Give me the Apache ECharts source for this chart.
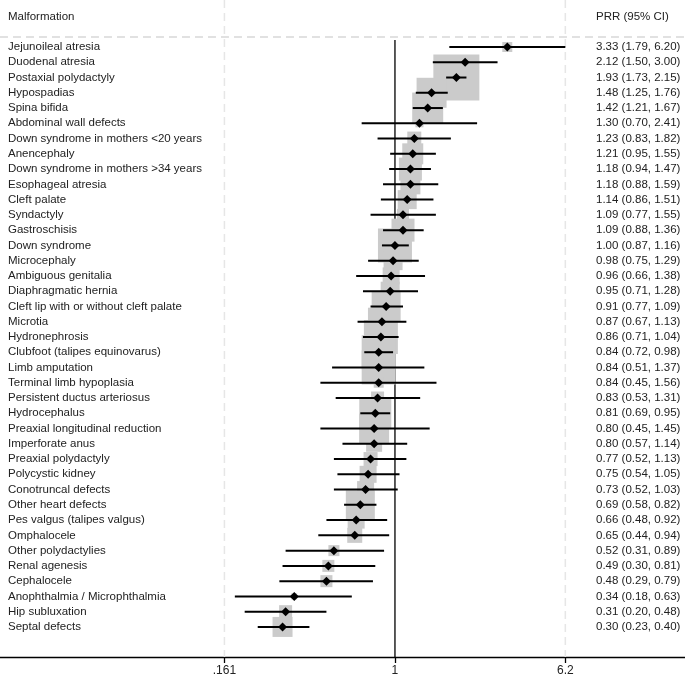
<!DOCTYPE html>
<html><head><meta charset="utf-8">
<script src="https://cdn.jsdelivr.net/npm/echarts@6/dist/echarts.min.js"></script>
<style>html,body{margin:0;padding:0;background:#fff}#c{width:685px;height:682px}</style>
</head><body><div id="c"></div>
<script>
const names=["Jejunoileal atresia","Duodenal atresia","Postaxial polydactyly","Hypospadias","Spina bifida","Abdominal wall defects","Down syndrome in mothers <20 years","Anencephaly","Down syndrome in mothers >34 years","Esophageal atresia","Cleft palate","Syndactyly","Gastroschisis","Down syndrome","Microcephaly","Ambiguous genitalia","Diaphragmatic hernia","Cleft lip with or without cleft palate","Microtia","Hydronephrosis","Clubfoot (talipes equinovarus)","Limb amputation","Terminal limb hypoplasia","Persistent ductus arteriosus","Hydrocephalus","Preaxial longitudinal reduction","Imperforate anus","Preaxial polydactyly","Polycystic kidney","Conotruncal defects","Other heart defects","Pes valgus (talipes valgus)","Omphalocele","Other polydactylies","Renal agenesis","Cephalocele","Anophthalmia / Microphthalmia","Hip subluxation","Septal defects"];
const prr=[3.33,2.12,1.93,1.48,1.42,1.30,1.23,1.21,1.18,1.18,1.14,1.09,1.09,1.00,0.98,0.96,0.95,0.91,0.87,0.86,0.84,0.84,0.84,0.83,0.81,0.80,0.80,0.77,0.75,0.73,0.69,0.66,0.65,0.52,0.49,0.48,0.34,0.31,0.30];
const lo=[1.79,1.50,1.73,1.25,1.21,0.70,0.83,0.95,0.94,0.88,0.86,0.77,0.88,0.87,0.75,0.66,0.71,0.77,0.67,0.71,0.72,0.51,0.45,0.53,0.69,0.45,0.57,0.52,0.54,0.52,0.58,0.48,0.44,0.31,0.30,0.29,0.18,0.20,0.23];
const hi=[6.20,3.00,2.15,1.76,1.67,2.41,1.82,1.55,1.47,1.59,1.51,1.55,1.36,1.16,1.29,1.38,1.28,1.09,1.13,1.04,0.98,1.37,1.56,1.31,0.95,1.45,1.14,1.13,1.05,1.03,0.82,0.92,0.94,0.89,0.81,0.79,0.63,0.48,0.40];
const weight=[10,6,46,30,31,8,14,21,23,20,19,12,23,34,19,17,19,29,28,34,34,34,10,13,32,30,16,14,17,17,29,17,15,11,12,12,6,13,20];
const tickVals=[0.161,1,6.2];
const tickLabels=[".161","1","6.2"];
const L=Math.log10;
const font='"Liberation Sans", Arial, sans-serif';
const rows=names.map((n,i)=>[i]);
const chart=echarts.init(document.getElementById('c'));
chart.setOption({
  animation:false,
  grid:{left:0,right:0,top:37,bottom:25},
  xAxis:{type:'value',min:-1.837,max:1.349,
    axisLine:{show:true,onZero:false,lineStyle:{color:'#000',width:1.3}},
    axisTick:{show:true,inside:false,length:6,lineStyle:{color:'#000',width:1.3},customValues:tickVals.map(L)},
    axisLabel:{show:true,color:'#222',fontSize:12,fontFamily:font,margin:8,customValues:tickVals.map(L),
      formatter:v=>{let k=tickVals.findIndex(t=>Math.abs(L(t)-v)<1e-6);return k>=0?tickLabels[k]:'';}},
    splitLine:{show:false}},
  yAxis:{type:'value',inverse:true,min:-0.655,max:39.97,show:false},
  series:[
    {type:'custom',z:1,data:[[0]],renderItem:(p,api)=>{
      const a=api.coord([0,-0.655]),b=api.coord([0,39.97]);
      const d1=api.coord([L(0.161),0]),d2=api.coord([L(6.2),0]);
      return {type:'group',children:[
        {type:'line',shape:{x1:d1[0],y1:0,x2:d1[0],y2:b[1]},style:{stroke:'#e6e6e6',lineWidth:1.5,lineDash:[8,5]}},
        {type:'line',shape:{x1:d2[0],y1:0,x2:d2[0],y2:b[1]},style:{stroke:'#e6e6e6',lineWidth:1.5,lineDash:[8,5]}},
        {type:'line',shape:{x1:0,y1:a[1],x2:685,y2:a[1]},style:{stroke:'#d8d8d8',lineWidth:1.5,lineDash:[8,5]}},
        {type:'line',shape:{x1:a[0],y1:a[1]+3,x2:a[0],y2:b[1]},style:{stroke:'#000',lineWidth:1.3}},
        {type:'text',style:{x:8,y:17,text:'Malformation',fill:'#222',font:'11.5px '+font,verticalAlign:'middle'}},
        {type:'text',style:{x:596,y:17,text:'PRR (95% CI)',fill:'#222',font:'11.5px '+font,verticalAlign:'middle'}}
      ]};}},
    {type:'custom',z:2,data:rows,renderItem:(p,api)=>{
      const i=api.value(0);const c=api.coord([L(prr[i]),i]);const s=weight[i];
      return {type:'rect',shape:{x:c[0]-s/2,y:c[1]-s/2,width:s,height:s},style:{fill:'#cbcbcb'}};}},
    {type:'custom',z:3,data:rows,renderItem:(p,api)=>{
      const i=api.value(0);const c=api.coord([L(prr[i]),i]);
      const a=api.coord([L(lo[i]),i]),b=api.coord([L(hi[i]),i]);const r=4.5;
      return {type:'group',children:[
        {type:'line',shape:{x1:a[0],y1:c[1],x2:b[0],y2:c[1]},style:{stroke:'#000',lineWidth:2}},
        {type:'polygon',shape:{points:[[c[0]-r,c[1]],[c[0],c[1]-r],[c[0]+r,c[1]],[c[0],c[1]+r]]},style:{fill:'#000'}},
        {type:'text',style:{x:8,y:c[1],text:names[i],fill:'#222',font:'11.5px '+font,verticalAlign:'middle'}},
        {type:'text',style:{x:596,y:c[1],text:prr[i].toFixed(2)+' ('+lo[i].toFixed(2)+', '+hi[i].toFixed(2)+')',fill:'#222',font:'11.5px '+font,verticalAlign:'middle'}}
      ]};}}
  ]
});
</script></body></html>
